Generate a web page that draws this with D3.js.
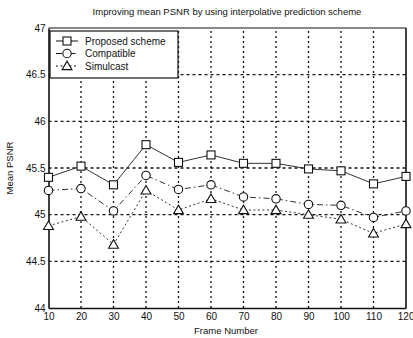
<!DOCTYPE html>
<html>
<head>
<meta charset="utf-8">
<script src="https://cdn.jsdelivr.net/npm/d3@7"></script>
<style>
  body { margin: 0; background: #fff; }
  svg text { font-family: "Liberation Sans", Arial, sans-serif; fill: #111; }
</style>
</head>
<body>
<div class="chart"></div>
<script>
// chart data
const frames = [10, 20, 30, 40, 50, 60, 70, 80, 90, 100, 110, 120];
const proposed = [45.40, 45.52, 45.32, 45.75, 45.56, 45.64, 45.55, 45.55, 45.49, 45.47, 45.33, 45.41];
const compatible = [45.26, 45.28, 45.04, 45.42, 45.27, 45.32, 45.19, 45.17, 45.11, 45.10, 44.97, 45.04];
const simulcast = [44.88, 44.98, 44.68, 45.26, 45.05, 45.17, 45.05, 45.05, 45.00, 44.95, 44.80, 44.90];
const yTicks = [44, 44.5, 45, 45.5, 46, 46.5, 47];
const seriesNames = ["Proposed scheme", "Compatible", "Simulcast"];

// size of the chart
const w = 413, h = 338;
const margin = { top: 28, right: 7, bottom: 30, left: 48.5 };

const svg = d3.select("div.chart")
    .append("svg")
    .attr("width", w)
    .attr("height", h);

const x = d3.scaleLinear().domain([10, 120]).range([margin.left, w - margin.right]);
const y = d3.scaleLinear().domain([44, 47]).range([h - margin.bottom, margin.top]);

// dotted grid
svg.append("g")
    .selectAll("line")
    .data(frames.slice(1, -1))
    .enter()
    .append("line")
    .attr("x1", d => x(d)).attr("x2", d => x(d))
    .attr("y1", y(44)).attr("y2", y(47))
    .attr("stroke", "#111").attr("stroke-width", 1.3)
    .attr("stroke-dasharray", "2,3");

svg.append("g")
    .selectAll("line")
    .data(yTicks.slice(1, -1))
    .enter()
    .append("line")
    .attr("x1", x(10)).attr("x2", x(120))
    .attr("y1", d => y(d)).attr("y2", d => y(d))
    .attr("stroke", "#111").attr("stroke-width", 1.3)
    .attr("stroke-dasharray", "3,3");

// axes
const xAxis = svg.append("g")
    .attr("transform", "translate(0," + y(44) + ")")
    .call(d3.axisBottom(x).tickValues(frames).tickSize(0).tickPadding(5));
const yAxis = svg.append("g")
    .attr("transform", "translate(" + x(10) + ",0)")
    .call(d3.axisLeft(y).tickValues(yTicks).tickFormat(d3.format("")).tickSize(0).tickPadding(3));
[xAxis, yAxis].forEach(a => {
    a.select(".domain").attr("stroke", "#111").attr("stroke-width", 1.6);
    a.selectAll("text").attr("font-size", "10px").attr("font-family", "Liberation Sans, Arial, sans-serif").attr("fill", "#111");
});
// last label sits against the right edge
xAxis.selectAll(".tick text").filter(d => d === 120).attr("text-anchor", "end").attr("dx", "8");

// top and right frame
svg.append("line")
    .attr("x1", x(10)).attr("x2", x(120)).attr("y1", y(47)).attr("y2", y(47))
    .attr("stroke", "#111").attr("stroke-width", 1.2);
svg.append("line")
    .attr("x1", x(120)).attr("x2", x(120)).attr("y1", y(47)).attr("y2", y(44))
    .attr("stroke", "#111").attr("stroke-width", 1.6);

// series
const series = [
    { values: proposed, dash: null, marker: "square" },
    { values: compatible, dash: "6,3,1.5,3", marker: "circle" },
    { values: simulcast, dash: "2,2.5", marker: "triangle" }
];

const line = d3.line()
    .x((d, i) => x(frames[i]))
    .y(d => y(d));

function drawMarker(g, type, cx, cy) {
    if (type === "square") {
        g.append("rect").attr("x", cx - 4).attr("y", cy - 4).attr("width", 8).attr("height", 8);
    } else if (type === "circle") {
        g.append("circle").attr("cx", cx).attr("cy", cy).attr("r", 4.2);
    } else {
        g.append("path").attr("d", d3.symbol().type(d3.symbolTriangle).size(42)()).attr("transform", "translate(" + cx + "," + (cy + 0.8) + ")");
    }
}

series.forEach(s => {
    svg.append("path")
        .datum(s.values)
        .attr("d", line)
        .attr("fill", "none")
        .attr("stroke", "#333")
        .attr("stroke-width", 1)
        .attr("stroke-dasharray", s.dash);
    const mg = svg.append("g").attr("fill", "#fff").attr("stroke", "#111").attr("stroke-width", 1.1);
    s.values.forEach((v, i) => drawMarker(mg, s.marker, x(frames[i]), y(v)));
});

// legend
const lg = svg.append("g");
lg.append("rect")
    .attr("x", 50).attr("y", 31).attr("width", 128).attr("height", 47)
    .attr("fill", "#fff").attr("stroke", "#111").attr("stroke-width", 1.2);
seriesNames.forEach((name, i) => {
    const ly = 41 + i * 12.5;
    lg.append("line")
        .attr("x1", 56).attr("x2", 78).attr("y1", ly).attr("y2", ly)
        .attr("stroke", "#111").attr("stroke-width", 1)
        .attr("stroke-dasharray", series[i].dash);
    const mg = lg.append("g").attr("fill", "#fff").attr("stroke", "#111").attr("stroke-width", 1.1);
    drawMarker(mg, series[i].marker, 67, ly);
    lg.append("text")
        .attr("x", 85).attr("y", ly + 3.5)
        .attr("font-size", "10px")
        .text(name);
});

// title and axis labels
svg.append("text")
    .attr("x", 227).attr("y", 15)
    .attr("text-anchor", "middle")
    .attr("font-size", "9.5px")
    .text("Improving mean PSNR by using interpolative prediction scheme");
svg.append("text")
    .attr("x", 226).attr("y", 334)
    .attr("text-anchor", "middle")
    .attr("font-size", "9.5px")
    .text("Frame Number");
svg.append("text")
    .attr("transform", "translate(13,168) rotate(-90)")
    .attr("text-anchor", "middle")
    .attr("font-size", "9.5px")
    .text("Mean PSNR");
</script>
</body>
</html>
